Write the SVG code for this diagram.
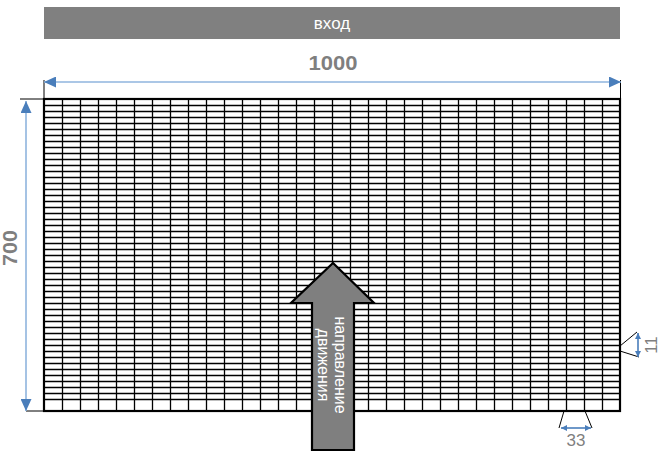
<svg xmlns="http://www.w3.org/2000/svg" width="663" height="454" viewBox="0 0 663 454">
<defs>
<style>
.grid{stroke:#000;stroke-width:1.3;fill:none}
.border{stroke:#000;stroke-width:2.2;fill:none}
.ext{stroke:#000;stroke-width:1;fill:none}
.dim{stroke:#8fb4de;stroke-width:1.6;fill:none}
.dimd{stroke:#4a7ebb;stroke-width:1.6;fill:none}
.lbl{font-family:"Liberation Sans",Arial,sans-serif;fill:#7f7f7f}
</style>
<marker id="ah" viewBox="0 0 10 10" refX="10" refY="5" markerWidth="12" markerHeight="11" markerUnits="userSpaceOnUse" orient="auto-start-reverse" preserveAspectRatio="none">
<path d="M0,0 L10,5 L0,10 z" fill="#4a7ebb"/>
</marker>
<marker id="ahs" viewBox="0 0 10 10" refX="10" refY="5" markerWidth="6" markerHeight="6" markerUnits="userSpaceOnUse" orient="auto-start-reverse">
<path d="M0,0 L10,5 L0,10 z" fill="#4a7ebb"/>
</marker>
</defs>
<rect width="663" height="454" fill="#fff"/>

<g id="entrance">
<rect x="44" y="7" width="576" height="32" fill="#808080"/>
<text x="332" y="29" text-anchor="middle" font-family="Liberation Sans,Arial,sans-serif" font-size="17" fill="#fff">вход</text>
</g>

<g id="grid">
<path class="grid" d="M44,105.5h576m-576,6h576m-576,6h576m-576,6h576m-576,6h576m-576,6h576m-576,6h576m-576,6h576m-576,6h576m-576,6h576m-576,6h576m-576,6h576m-576,6h576m-576,6h576m-576,6h576m-576,6h576m-576,6h576m-576,6h576m-576,6h576m-576,6h576m-576,6h576m-576,6h576m-576,6h576m-576,6h576m-576,6h576m-576,6h576m-576,6h576m-576,6h576m-576,6h576m-576,6h576m-576,6h576m-576,6h576m-576,6h576m-576,6h576m-576,6h576m-576,6h576m-576,6h576m-576,6h576m-576,6h576m-576,6h576m-576,6h576m-576,6h576m-576,6h576m-576,6h576m-576,6h576m-576,6h576m-576,6h576m-576,6h576m-576,6h576m-576,6h576"/>
<path class="grid" d="M62.5,99v312m18,-312v312m18,-312v312m18,-312v312m18,-312v312m18,-312v312m18,-312v312m18,-312v312m18,-312v312m18,-312v312m18,-312v312m18,-312v312m18,-312v312m18,-312v312m18,-312v312m18,-312v312m18,-312v312m18,-312v312m18,-312v312m18,-312v312m18,-312v312m18,-312v312m18,-312v312m18,-312v312m18,-312v312m18,-312v312m18,-312v312m18,-312v312m18,-312v312m18,-312v312m18,-312v312"/>
<rect class="border" x="44" y="99" width="576" height="312"/>
</g>

<g id="connectors">
<line class="ext" x1="44" y1="80" x2="44" y2="99"/>
<line class="ext" x1="620.5" y1="80" x2="620.5" y2="99"/>
<line class="ext" x1="20" y1="99" x2="44" y2="99"/>
<line class="ext" x1="26" y1="411" x2="44" y2="411"/>
<line class="dim" x1="44" y1="82" x2="621" y2="82" marker-start="url(#ah)" marker-end="url(#ah)"/>
<line class="dim" x1="26" y1="101" x2="26" y2="411" marker-start="url(#ah)" marker-end="url(#ah)"/>
<line class="ext" x1="620" y1="346" x2="637" y2="332"/>
<line class="ext" x1="620" y1="351" x2="639" y2="357"/>
<line class="dimd" x1="638" y1="333" x2="638" y2="357" marker-start="url(#ahs)" marker-end="url(#ahs)"/>
<line class="ext" x1="564" y1="411" x2="559" y2="428"/>
<line class="ext" x1="585" y1="411" x2="592" y2="428"/>
<line class="dimd" x1="561" y1="428" x2="591" y2="428" marker-start="url(#ahs)" marker-end="url(#ahs)"/>
</g>

<g id="labels">
<text class="lbl" x="333" y="70" text-anchor="middle" font-size="21" font-weight="bold" textLength="49" lengthAdjust="spacingAndGlyphs">1000</text>
<text class="lbl" transform="translate(17,248) rotate(-90)" text-anchor="middle" font-size="20" font-weight="bold" textLength="36" lengthAdjust="spacingAndGlyphs">700</text>
<text class="lbl" transform="translate(657,345) rotate(-90)" text-anchor="middle" font-size="17">11</text>
<text class="lbl" x="576" y="446" text-anchor="middle" font-size="17">33</text>
</g>

<g id="direction">
<path d="M333,263 L374,303 L354,303 L354,450 L312,450 L312,303 L291,303 Z" fill="#7f7f7f" stroke="#000" stroke-width="2.2" stroke-linejoin="miter"/>
<text transform="translate(335,365) rotate(90)" text-anchor="middle" font-family="Liberation Sans,Arial,sans-serif" font-size="16" fill="#fff">направление</text>
<text transform="translate(318,365) rotate(90)" text-anchor="middle" font-family="Liberation Sans,Arial,sans-serif" font-size="16" fill="#fff">движения</text>
</g>
</svg>
